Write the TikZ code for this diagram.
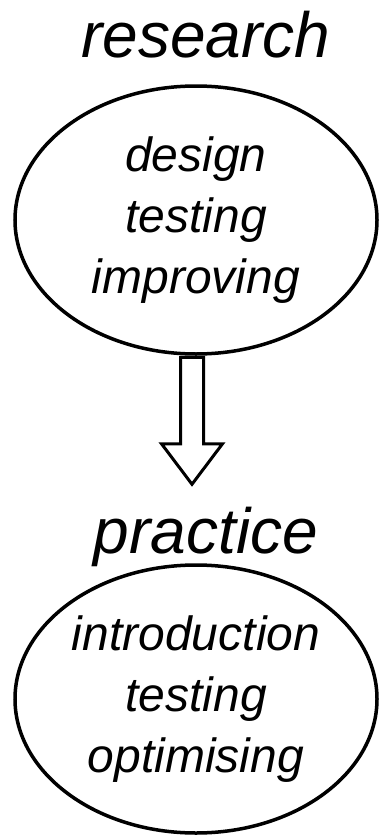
\documentclass[tikz,border=0pt]{standalone}
\usepackage{fontspec}
\setmainfont{Liberation Sans}
\usetikzlibrary{shapes,arrows,positioning}

\begin{document}
\begin{tikzpicture}[x=1pt,y=-1pt]
        % Define styles
        \tikzstyle{stage} = [font=\fontsize{64}{70}\selectfont\itshape, anchor=base, inner sep=0pt]
        \tikzstyle{bubble} = [ellipse, draw, line width=3.5pt, minimum width=362pt, minimum height=268pt,
            align=center, inner sep=0pt, font=\fontsize{48}{61}\selectfont\itshape]
        \tikzstyle{bigarrow} = [single arrow, draw, line width=3pt, shape border rotate=270,
            anchor=tail, inner sep=10pt, minimum height=127pt,
            single arrow head extend=19pt, single arrow tip angle=74]

        \useasboundingbox (0,0) rectangle (380,835);

        % Nodes
        \node [stage] (research) at (206,57) {research};
        \node [bubble] (resbox) at (196,220) {design\\testing\\improving};
        \node [stage] (practice) at (206,553) {practice};
        \node [bubble] (pracbox) at (196,699) {introduction\\testing\\optimising};

        % Arrows
        \node [bigarrow, xshift=-4pt] (down) at (resbox.south) {};
    \end{tikzpicture}
\end{document}
